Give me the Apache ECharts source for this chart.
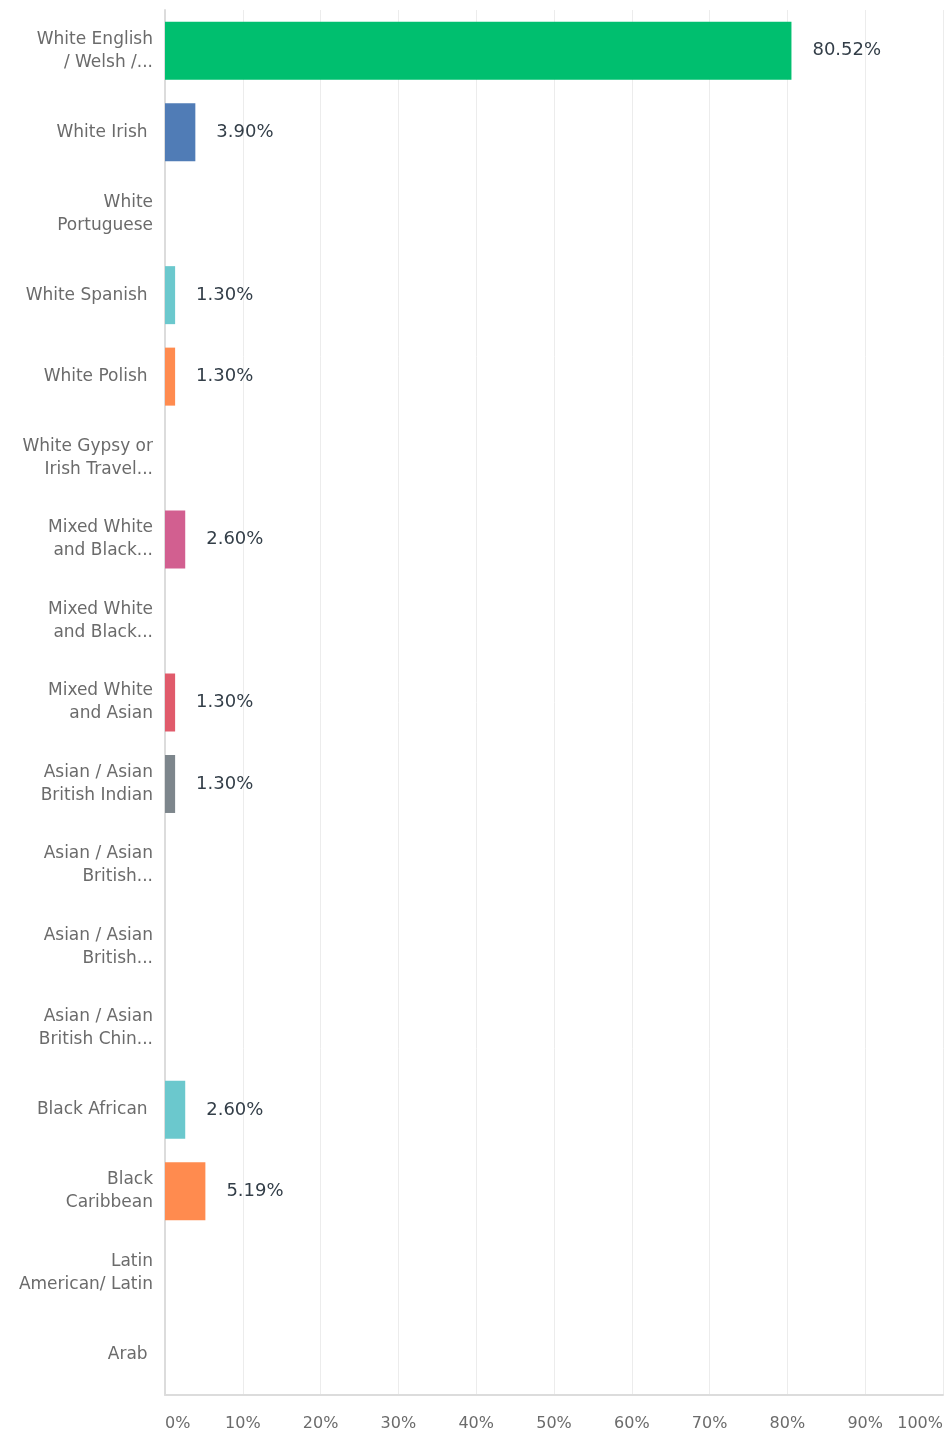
<!DOCTYPE html>
<html>
<head>
<meta charset="utf-8">
<script src="https://cdn.jsdelivr.net/npm/echarts@6/dist/echarts.min.js"></script>
<style>
html,body{margin:0;padding:0;background:#fff;}
#chart{width:952px;height:1437px;}
</style>
</head>
<body>
<div id="chart"></div>
<script>
const categories = [
  "White English\n/ Welsh /...",
  "White Irish ",
  "White\nPortuguese",
  "White Spanish ",
  "White Polish ",
  "White Gypsy or\nIrish Travel...",
  "Mixed White\nand Black...",
  "Mixed White\nand Black...",
  "Mixed White\nand Asian",
  "Asian / Asian\nBritish Indian",
  "Asian / Asian\nBritish...",
  "Asian / Asian\nBritish...",
  "Asian / Asian\nBritish Chin...",
  "Black African ",
  "Black\nCaribbean",
  "Latin\nAmerican/ Latin",
  "Arab "
];
const values = [80.52, 3.90, 0, 1.30, 1.30, 0, 2.60, 0, 1.30, 1.30, 0, 0, 0, 2.60, 5.19, 0, 0];
const colors = ["#00BF6F", "#507CB6", "#F9BE00", "#6BC8CD", "#FF8B4F", "#7F7FFF", "#D25F90", "#A7A9AC", "#E05B6B", "#7D868C", "#00BF6F", "#507CB6", "#F9BE00", "#6BC8CD", "#FF8B4F", "#7F7FFF", "#D25F90"];
const xTicks = [0, 10, 20, 30, 40, 50, 60, 70, 80, 90, 100];

const chart = echarts.init(document.getElementById('chart'), null, {renderer: 'canvas'});
const font = '"DejaVu Sans", "Noto Sans", sans-serif';
chart.setOption({
  animation: false,
  backgroundColor: '#ffffff',
  grid: {left: 165, right: 9, top: 10, bottom: 42, containLabel: false},
  xAxis: {
    type: 'value', min: 0, max: 100, interval: 10,
    axisLine: {show: true, lineStyle: {color: '#dcdcdc', width: 2}},
    axisTick: {show: false},
    splitLine: {show: true, lineStyle: {color: '#ececec', width: 1}},
    axisLabel: {
      formatter: v => xTicks.includes(v) ? v + '%' : '',
      color: '#6b6b6b', fontSize: 16, fontFamily: font, margin: 21,
      alignMinLabel: 'left', alignMaxLabel: 'right'
    }
  },
  yAxis: {
    type: 'category', data: categories, inverse: true,
    axisLine: {show: true, lineStyle: {color: '#dcdcdc', width: 2}},
    axisTick: {show: false},
    splitLine: {show: false},
    axisLabel: {color: '#6b6b6b', fontSize: 17, fontFamily: font, margin: 12, lineHeight: 23, align: 'right'}
  },
  series: [{
    type: 'bar',
    data: values.map((v, i) => ({value: v, itemStyle: {color: colors[i]}, label: {show: v > 0}})),
    barWidth: 58,
    label: {
      show: true, position: 'right', distance: 21,
      formatter: p => p.value.toFixed(2) + '%',
      color: '#333E48', fontSize: 18, fontFamily: font
    }
  }]
});
</script>
</body>
</html>
